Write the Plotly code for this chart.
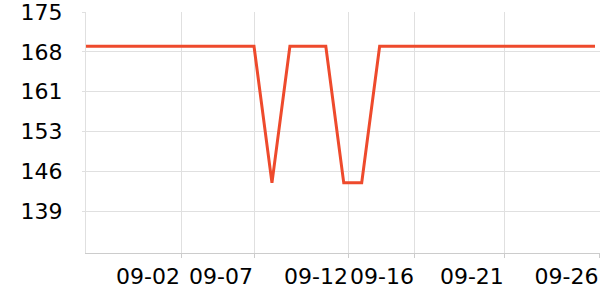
import plotly.graph_objects as go

dates = [
    "2023-08-28 15:20", "2023-08-29", "2023-08-30", "2023-08-31", "2023-09-01",
    "2023-09-02", "2023-09-03", "2023-09-04", "2023-09-05", "2023-09-06",
    "2023-09-07", "2023-09-08", "2023-09-09", "2023-09-10", "2023-09-11",
    "2023-09-12", "2023-09-13", "2023-09-14", "2023-09-15", "2023-09-16",
    "2023-09-17", "2023-09-18", "2023-09-19", "2023-09-20", "2023-09-21",
    "2023-09-22", "2023-09-23", "2023-09-24", "2023-09-25", "2023-09-26",
]
values = [
    168.8, 168.8, 168.8, 168.8, 168.8,
    168.8, 168.8, 168.8, 168.8, 168.8,
    168.8, 144.1, 168.8, 168.8, 168.8,
    144.1, 144.1, 168.8, 168.8, 168.8,
    168.8, 168.8, 168.8, 168.8, 168.8,
    168.8, 168.8, 168.8, 168.8, 168.8,
]

x_tick_vals = ["2023-09-02 22:24", "2023-09-07 00:00", "2023-09-12 07:00",
               "2023-09-15 23:15", "2023-09-20 23:30", "2023-09-26 06:00"]
x_tick_text = ["09-02", "09-07", "09-12", "09-16", "09-21", "09-26"]

y_min, y_max = 131.4, 175.0
y_tick_vals = [139.0, 146.2, 153.4, 160.6, 167.8, 175.0]
y_tick_text = ["139", "146", "153", "161", "168", "175"]

fig = go.Figure()
fig.add_trace(go.Scatter(
    x=dates, y=values, mode="lines",
    line=dict(color="#ee4a2c", width=3),
    hoverinfo="skip",
))

fig.update_layout(
    width=600, height=300,
    margin=dict(l=86, r=0, t=10, b=47),
    paper_bgcolor="white", plot_bgcolor="white",
    showlegend=False,
    font=dict(family="DejaVu Sans", size=22, color="#000"),
)
fig.update_xaxes(
    type="date",
    range=["2023-08-28 15:20", "2023-09-26 06:40"],
    tickmode="array", tickvals=x_tick_vals, ticktext=x_tick_text,
    showgrid=True, gridcolor="#e0e0e0", gridwidth=1,
    showline=True, linecolor="#cccccc", linewidth=1,
    ticks="outside", ticklen=4, tickcolor="#cccccc",
    ticklabelshift=-33, ticklabelstandoff=0,
    ticklabeloverflow="allow",
    zeroline=False,
)
fig.update_yaxes(
    range=[y_min, y_max + 0.02],
    tickmode="array", tickvals=y_tick_vals, ticktext=y_tick_text,
    showgrid=True, gridcolor="#e0e0e0", gridwidth=1,
    showline=True, linecolor="#e0e0e0", linewidth=1,
    ticks="outside", ticklen=3, tickcolor="#e0e0e0",
    ticklabelstandoff=15,
    ticklabeloverflow="allow",
    zeroline=False,
)

fig.write_html("out.html")
